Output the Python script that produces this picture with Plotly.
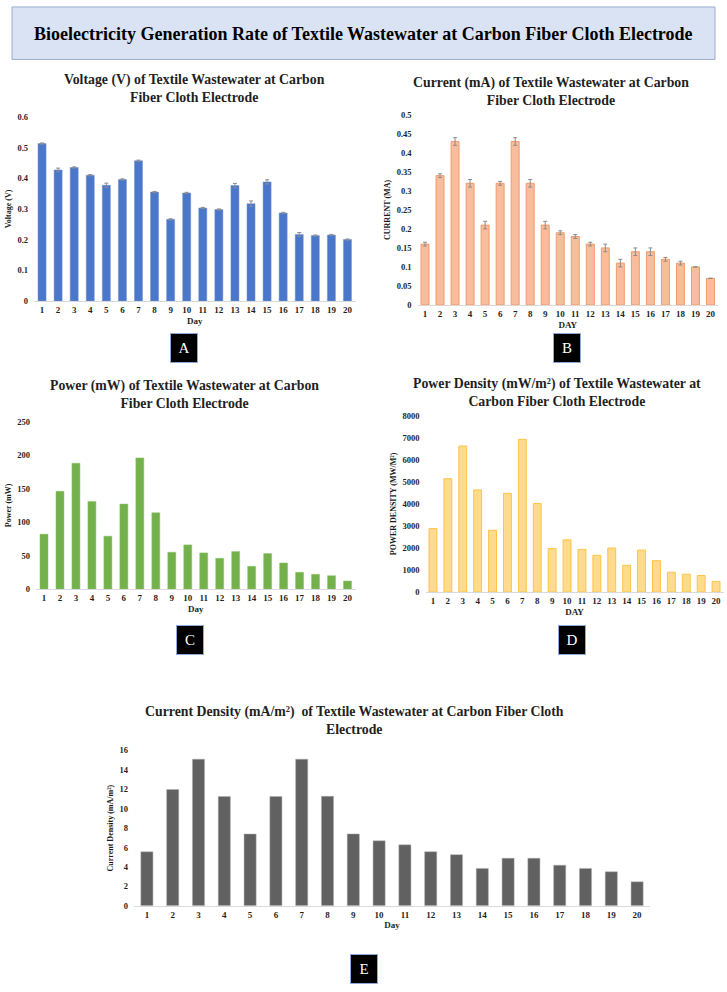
import plotly.graph_objects as go

# ---------------- data ----------------
days = list(range(1, 21))
day_labels = [str(d) for d in days]

voltage = [0.513, 0.427, 0.435, 0.410, 0.377, 0.396, 0.457, 0.355, 0.266, 0.352,
           0.303, 0.298, 0.376, 0.317, 0.388, 0.287, 0.217, 0.213, 0.215, 0.200]
voltage_err = [0.002, 0.006, 0.002, 0.002, 0.007, 0.002, 0.002, 0.002, 0.002, 0.002,
               0.002, 0.002, 0.007, 0.009, 0.007, 0.002, 0.006, 0.002, 0.002, 0.002]

current = [0.16, 0.34, 0.43, 0.32, 0.21, 0.32, 0.43, 0.32, 0.21, 0.19,
           0.18, 0.16, 0.15, 0.11, 0.14, 0.14, 0.12, 0.11, 0.10, 0.07]
current_err = [0.005, 0.005, 0.01, 0.01, 0.01, 0.005, 0.01, 0.01, 0.01, 0.005,
               0.005, 0.005, 0.01, 0.01, 0.01, 0.01, 0.005, 0.005, 0.0, 0.0]

power = [82, 146, 188, 131, 79, 127, 196, 114, 55, 66,
         54, 46, 56, 34, 53, 39, 25, 22, 20, 12]

power_density = [2880, 5145, 6630, 4635, 2805, 4485, 6930, 4020, 1980, 2370,
                 1935, 1665, 1995, 1215, 1905, 1425, 900, 810, 750, 480]

current_density = [5.56, 11.97, 15.1, 11.25, 7.39, 11.25, 15.1, 11.28, 7.4, 6.69,
                   6.28, 5.57, 5.27, 3.85, 4.9, 4.9, 4.19, 3.85, 3.51, 2.47]

main_title = "Bioelectricity Generation Rate of Textile Wastewater at Carbon Fiber Cloth Electrode"

# ---------------- layout helpers ----------------
W, H = 727, 992


def fx(p):
    return p / W


def fy(p):
    return 1 - p / H


SERIF = "Liberation Serif, Times New Roman, serif"
TICK_COLOR = "#1f1f1f"

panels = [
    dict(name="A", x=days, y=voltage, err=voltage_err, xd=(34, 355.5), yd=(113, 299),
         yr=[0, 0.6], dtick=0.1, fill="#4a77c9", line="#6e93d6", lw=0.5, bw=0.5,
         title="Voltage (V) of Textile Wastewater at Carbon<br>Fiber Cloth Electrode",
         tpos=(194, 84), ytitle="Voltage (V)", xtitle="Day", box=(183.5, 346.5)),
    dict(name="B", x=days, y=current, err=current_err, xd=(417.5, 718), yd=(111, 303),
         yr=[0, 0.5], dtick=0.05, fill="#f7bd9c", line="#f29a6c", lw=1, bw=0.53,
         title="Current (mA) of Textile Wastewater at Carbon<br>Fiber Cloth Electrode",
         tpos=(551, 87), ytitle="CURRENT (MA)", xtitle="DAY", box=(566.5, 346.5)),
    dict(name="C", x=days, y=power, err=None, xd=(36, 355.5), yd=(421, 590),
         yr=[0, 250], dtick=50, fill="#74b04b", line="#8cc46b", lw=0.5, bw=0.5,
         title="Power (mW) of Textile Wastewater at Carbon<br>Fiber Cloth Electrode",
         tpos=(185, 393), ytitle="Power (mW)", xtitle="Day", box=(190, 641.5)),
    dict(name="D", x=days, y=power_density, err=None, xd=(425.5, 723.5), yd=(415, 593),
         yr=[0, 8000], dtick=1000, fill="#ffda8f", line="#ffc445", lw=1, bw=0.53,
         title="Power Density (mW/m²) of Textile Wastewater at<br>Carbon Fiber Cloth Electrode",
         tpos=(557, 391), ytitle="POWER DENSITY (MW/M²)", xtitle="DAY", box=(571.5, 641.5)),
    dict(name="E", x=days, y=current_density, err=None, xd=(134, 650), yd=(753, 910),
         yr=[0, 16], dtick=2, fill="#616161", line="#b0b0b0", lw=0.5, bw=0.47,
         title="Current Density (mA/m²)  of Textile Wastewater at Carbon Fiber Cloth<br>Electrode",
         tpos=(354, 723), ytitle="Current Density (mA/m²)", xtitle="Day", box=(364, 974)),
]

fig = go.Figure()
annotations = []
layout_axes = {}

for i, p in enumerate(panels, start=1):
    sfx = "" if i == 1 else str(i)
    err = None
    if p["err"] is not None:
        err = dict(type="data", array=p["err"], visible=True, color="#8c8c8c",
                   thickness=1, width=2)
    fig.add_trace(go.Bar(
        x=p["x"], y=p["y"], width=p["bw"], error_y=err,
        marker=dict(color=p["fill"], line=dict(color=p["line"], width=p["lw"])),
        xaxis="x" + sfx, yaxis="y" + sfx, showlegend=False,
    ))
    layout_axes["xaxis" + sfx] = dict(
        domain=[fx(p["xd"][0]), fx(p["xd"][1])], anchor="y" + sfx,
        range=[0.5, 20.5], tickmode="array", tickvals=days, ticktext=day_labels,
        showgrid=False, zeroline=False, showline=True, linecolor="#d9d9d9", linewidth=1,
        ticks="", tickfont=dict(family=SERIF, size=9, color=TICK_COLOR, weight="bold"),
        title=dict(text=p["xtitle"], standoff=3,
                   font=dict(family=SERIF, size=9, color=TICK_COLOR, weight="bold")),
        fixedrange=True,
    )
    layout_axes["yaxis" + sfx] = dict(
        domain=[fy(p["yd"][1]), fy(p["yd"][0])], anchor="x" + sfx,
        range=p["yr"], dtick=p["dtick"], tick0=0,
        showgrid=False, zeroline=False, showline=False, ticks="",
        ticklabelstandoff=5,
        tickfont=dict(family=SERIF, size=8.5, color=TICK_COLOR, weight="bold"),
        title=dict(text=p["ytitle"], standoff=4,
                   font=dict(family=SERIF, size=8, color="#1a1a1a", weight="bold")),
        fixedrange=True,
    )
    # panel title
    annotations.append(dict(
        text=p["title"], xref="paper", yref="paper", x=fx(p["tpos"][0]), y=fy(p["tpos"][1]),
        xanchor="center", yanchor="middle", showarrow=False, align="center",
        font=dict(family=SERIF, size=13.8, color="#1f1f1f", weight="bold"),
    ))
    # letter label box
    annotations.append(dict(
        text=p["name"], xref="paper", yref="paper", x=fx(p["box"][0]), y=fy(p["box"][1]),
        xanchor="center", yanchor="middle", showarrow=False,
        width=26, height=28, bgcolor="black", bordercolor="#8eaadb", borderwidth=1,
        borderpad=0, font=dict(family=SERIF, size=15, color="white"),
    ))

# main title inside a light-blue box
annotations.append(dict(
    text=main_title, xref="paper", yref="paper", x=fx(363.5), y=fy(29),
    xanchor="center", yanchor="middle", showarrow=False,
    font=dict(family=SERIF, size=18, color="black", weight="bold"),
))

shapes = [dict(type="rect", xref="paper", yref="paper",
               x0=fx(12), x1=fx(715), y0=fy(55), y1=fy(2),
               fillcolor="#dae3f3", line=dict(color="#98aed0", width=1), layer="below")]

fig.update_layout(
    width=W, height=H, autosize=False,
    margin=dict(l=0, r=0, t=0, b=0),
    paper_bgcolor="white", plot_bgcolor="white",
    annotations=annotations, shapes=shapes,
    **layout_axes,
)

fig.write_html("out.html", post_script="document.body.style.margin='0';",
               config={"displayModeBar": False})
